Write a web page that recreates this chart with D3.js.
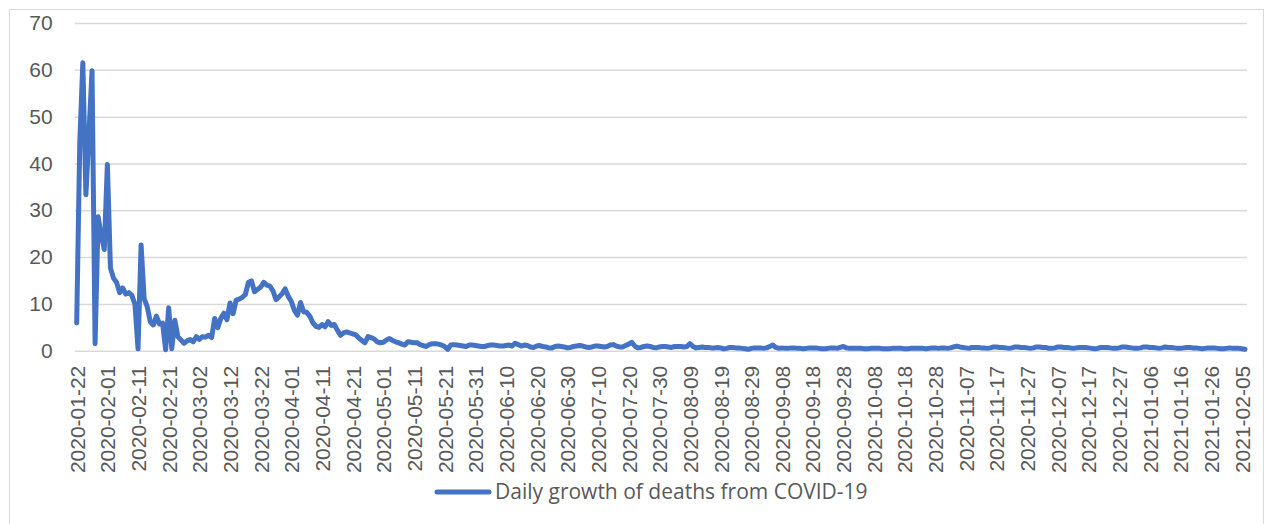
<!DOCTYPE html>
<html>
<head>
<meta charset="utf-8">
<script src="https://cdn.jsdelivr.net/npm/d3@7"></script>
<style>
  html, body { margin: 0; padding: 0; background: #fff; }
  svg { display: block; font-family: "Open Sans", "Noto Sans", sans-serif; }
</style>
</head>
<body>
<svg id="chart" width="1274" height="524"></svg>
<script>
// Daily growth of cumulative COVID-19 deaths (%), one value per day from 2020-01-22
const startDate = "2020-01-22";
const endDate = "2021-02-07";

const growthValues = [
  5.9, 44.4, 61.5, 33.3, 46.4, 59.8, 1.5, 28.6, 24.6, 21.6,
  39.8, 17.7, 15.5, 14.6, 12.4, 13.4, 12.1, 12.4, 11.8, 9.9,
  0.4, 22.6, 11.1, 9.4, 6.2, 5.5, 7.4, 5.7, 5.9, 0.2,
  9.2, 0.4, 6.5, 3.0, 2.3, 1.6, 2.1, 2.4, 1.9, 3.0,
  2.4, 3.0, 2.9, 3.3, 2.8, 6.9, 4.9, 6.9, 8.0, 6.6,
  10.2, 7.9, 10.8, 11.0, 11.4, 12.0, 14.6, 14.9, 12.6, 13.1,
  13.6, 14.6, 14.0, 13.8, 12.8, 10.9, 11.5, 12.2, 13.2, 11.6,
  10.5, 8.6, 7.6, 10.3, 8.3, 8.2, 7.4, 6.0, 5.2, 5.0,
  5.6, 5.1, 6.2, 5.4, 5.6, 4.4, 3.3, 3.8, 4.0, 3.8,
  3.6, 3.4, 2.7, 2.2, 1.7, 3.0, 2.8, 2.5, 1.9, 1.7,
  1.8, 2.3, 2.6, 2.2, 1.9, 1.7, 1.4, 1.2, 1.9, 1.8,
  1.7, 1.7, 1.3, 1.1, 0.9, 1.3, 1.5, 1.5, 1.4, 1.2,
  0.9, 0.3, 1.2, 1.3, 1.2, 1.1, 1.0, 0.9, 1.2, 1.2,
  1.1, 1.0, 0.9, 0.9, 1.1, 1.2, 1.2, 1.1, 1.0, 1.0,
  1.1, 1.2, 1.0, 1.6, 1.3, 1.0, 1.2, 1.1, 0.8, 0.7,
  1.0, 1.1, 0.9, 0.8, 0.6, 0.6, 0.9, 1.0, 0.9, 0.8,
  0.6, 0.7, 0.9, 1.0, 1.1, 1.0, 0.8, 0.7, 0.8, 1.0,
  1.0, 0.9, 0.8, 0.9, 1.2, 1.3, 1.0, 0.8, 0.8, 1.1,
  1.4, 1.8, 1.0, 0.6, 0.7, 0.9, 1.0, 0.9, 0.7, 0.6,
  0.8, 0.9, 0.9, 0.8, 0.7, 0.9, 0.9, 0.9, 0.8, 0.9,
  1.5, 0.9, 0.6, 0.7, 0.8, 0.7, 0.7, 0.6, 0.6, 0.7,
  0.6, 0.4, 0.5, 0.7, 0.7, 0.6, 0.6, 0.5, 0.4, 0.3,
  0.5, 0.6, 0.6, 0.6, 0.5, 0.6, 0.9, 1.2, 0.7, 0.5,
  0.6, 0.5, 0.5, 0.6, 0.6, 0.5, 0.5, 0.4, 0.5, 0.6,
  0.6, 0.6, 0.5, 0.4, 0.4, 0.5, 0.6, 0.6, 0.5, 0.7,
  0.9, 0.6, 0.5, 0.5, 0.5, 0.5, 0.5, 0.4, 0.4, 0.5,
  0.5, 0.5, 0.5, 0.4, 0.4, 0.4, 0.5, 0.5, 0.5, 0.5,
  0.4, 0.4, 0.5, 0.5, 0.5, 0.5, 0.5, 0.4, 0.5, 0.6,
  0.6, 0.5, 0.6, 0.6, 0.5, 0.6, 0.8, 1.0, 0.8, 0.7,
  0.6, 0.5, 0.7, 0.7, 0.7, 0.6, 0.6, 0.5, 0.6, 0.8,
  0.8, 0.7, 0.7, 0.6, 0.5, 0.6, 0.8, 0.8, 0.7, 0.7,
  0.6, 0.5, 0.6, 0.8, 0.8, 0.7, 0.7, 0.5, 0.5, 0.6,
  0.8, 0.8, 0.7, 0.7, 0.6, 0.5, 0.6, 0.7, 0.7, 0.7,
  0.6, 0.5, 0.4, 0.5, 0.7, 0.7, 0.7, 0.6, 0.5, 0.5,
  0.6, 0.8, 0.8, 0.7, 0.6, 0.5, 0.5, 0.6, 0.8, 0.8,
  0.7, 0.7, 0.6, 0.5, 0.6, 0.8, 0.7, 0.7, 0.6, 0.5,
  0.5, 0.6, 0.7, 0.7, 0.6, 0.6, 0.5, 0.4, 0.5, 0.6,
  0.6, 0.6, 0.5, 0.4, 0.4, 0.5, 0.6, 0.5, 0.5, 0.5,
  0.4, 0.3
];

const tickLabels = [
  "2020-01-22", "2020-02-01", "2020-02-11", "2020-02-21", "2020-03-02",
  "2020-03-12", "2020-03-22", "2020-04-01", "2020-04-11", "2020-04-21",
  "2020-05-01", "2020-05-11", "2020-05-21", "2020-05-31", "2020-06-10",
  "2020-06-20", "2020-06-30", "2020-07-10", "2020-07-20", "2020-07-30",
  "2020-08-09", "2020-08-19", "2020-08-29", "2020-09-08", "2020-09-18",
  "2020-09-28", "2020-10-08", "2020-10-18", "2020-10-28", "2020-11-07",
  "2020-11-17", "2020-11-27", "2020-12-07", "2020-12-17", "2020-12-27",
  "2021-01-06", "2021-01-16", "2021-01-26", "2021-02-05"
];

const yTicks = [0, 10, 20, 30, 40, 50, 60, 70];
const seriesName = "Daily growth of deaths from COVID-19";

// Category axis: every day in the range, formatted like the tick labels
const fmt = d3.timeFormat("%Y-%m-%d");
const parse = d3.timeParse("%Y-%m-%d");
const categories = d3.timeDay.range(parse(startDate), d3.timeDay.offset(parse(endDate), 1)).map(fmt);

const data = categories.map((c, i) => ({ date: c, value: growthValues[i] }))
  .filter(d => d.value !== undefined);

const svg = d3.select("#chart");

const plot = { left: 76.7, right: 1245, top: 23, bottom: 350.7 };
const textColor = "#595959";
const gridColor = "#D9D9D9";
const lineColor = "#4472C4";
const fontSize = "21px";

// Outer chart frame
svg.append("rect")
  .attr("x", 9.5).attr("y", 9.5)
  .attr("width", 1254).attr("height", 530)
  .attr("fill", "#fff")
  .attr("stroke", gridColor).attr("stroke-width", 1);

const x = d3.scalePoint()
  .domain(data.map(d => d.date))
  .range([plot.left, plot.right]);

const y = d3.scaleLinear()
  .domain([0, 70])
  .range([plot.bottom, plot.top]);

// Horizontal gridlines with value labels
const yAxis = d3.axisLeft(y)
  .tickValues(yTicks)
  .tickSize(-(plot.right + 2 - (plot.left - 2)))
  .tickPadding(22)
  .tickFormat(d3.format("d"));

const gy = svg.append("g")
  .attr("transform", `translate(${plot.left - 2},0)`)
  .call(yAxis);
gy.select(".domain").remove();
gy.selectAll(".tick line")
  .attr("stroke", gridColor).attr("stroke-width", 1.5);
gy.selectAll(".tick text")
  .attr("fill", textColor)
  .style("font-size", fontSize);

// Date labels, rotated to read bottom-up
const xAxis = d3.axisBottom(x)
  .tickValues(tickLabels)
  .tickSize(0)
  .tickPadding(0);

const gx = svg.append("g")
  .attr("transform", `translate(0,${plot.bottom})`)
  .call(xAxis);
gx.select(".domain").remove();
gx.selectAll(".tick text")
  .attr("fill", textColor)
  .style("font-size", fontSize)
  .attr("transform", "rotate(-90)")
  .attr("x", -15)
  .attr("y", 0)
  .attr("dy", "0.35em")
  .attr("text-anchor", "end");

// Series line
const line = d3.line()
  .x(d => x(d.date))
  .y(d => y(d.value));

svg.append("path")
  .datum(data)
  .attr("d", line)
  .attr("fill", "none")
  .attr("stroke", lineColor)
  .attr("stroke-width", 5)
  .attr("stroke-linejoin", "round")
  .attr("stroke-linecap", "round");

// Legend
const legend = svg.append("g").attr("transform", "translate(0,492)");
legend.append("line")
  .attr("x1", 437).attr("x2", 489)
  .attr("y1", 0).attr("y2", 0)
  .attr("stroke", lineColor)
  .attr("stroke-width", 5)
  .attr("stroke-linecap", "round");
legend.append("text")
  .attr("x", 495).attr("y", 0)
  .attr("dy", "0.35em")
  .attr("fill", textColor)
  .style("font-size", fontSize)
  .text(seriesName);
</script>
</body>
</html>
